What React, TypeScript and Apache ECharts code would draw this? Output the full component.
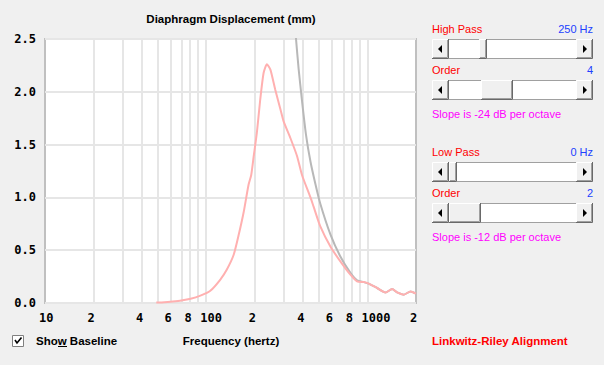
import React, { useEffect, useRef } from 'react';
import * as echarts from 'echarts';

// Response curve (with crossover) — frequency in Hz, displacement in mm
const responseHz = [49, 55, 62, 70, 80, 92, 106, 122, 134, 148, 159, 171, 183, 190, 197, 206, 216, 227, 238, 250, 268, 289, 302, 333, 366, 393, 443, 464, 510, 589, 679, 784, 862, 950, 1018, 1148, 1294, 1422, 1527, 1680, 1850, 2000];
const responseMm = [0.005, 0.008, 0.015, 0.024, 0.04, 0.07, 0.116, 0.22, 0.315, 0.457, 0.646, 0.867, 1.12, 1.21, 1.39, 1.61, 1.92, 2.18, 2.26, 2.21, 2.02, 1.83, 1.72, 1.56, 1.39, 1.21, 1.0, 0.91, 0.725, 0.535, 0.394, 0.268, 0.205, 0.198, 0.183, 0.142, 0.1, 0.132, 0.1, 0.079, 0.11, 0.088];

// Baseline curve (no crossover)
const baselineHz = [352, 361, 374, 393, 416, 443, 475, 510, 589, 679, 784, 862, 950, 1018, 1148, 1294, 1422, 1527, 1680, 1850, 2000];
const baselineMm = [2.7, 2.49, 2.22, 1.91, 1.59, 1.34, 1.13, 0.94, 0.65, 0.44, 0.285, 0.215, 0.198, 0.183, 0.142, 0.1, 0.132, 0.1, 0.079, 0.11, 0.088];

const xTickHz = [10, 20, 40, 60, 80, 100, 200, 400, 600, 800, 1000, 2000];
const xTickLabels = ['10', '2', '4', '6', '8', '100', '2', '4', '6', '8', '1000', '2'];
const xGridHz = [20, 30, 40, 50, 60, 70, 80, 90, 100, 200, 300, 400, 500, 600, 700, 800, 900, 1000];

const yMin = 0;
const yMax = 2.5;
const yStep = 0.5;

const UI_FONT = '"Liberation Sans", Arial, sans-serif';
const MONO_FONT = '"DejaVu Sans Mono", monospace';

function button(x: number, y: number, w: number, h: number): any[] {
  return [
    { type: 'rect', shape: { x, y, width: w, height: h }, style: { fill: '#f0f0f0' } },
    { type: 'polyline', shape: { points: [[x + 0.5, y + h - 1], [x + 0.5, y + 0.5], [x + w - 1, y + 0.5]] }, style: { stroke: '#ffffff', lineWidth: 1, fill: 'none' } },
    { type: 'polyline', shape: { points: [[x, y + h - 0.5], [x + w - 0.5, y + h - 0.5], [x + w - 0.5, y]] }, style: { stroke: '#696969', lineWidth: 1, fill: 'none' } },
    { type: 'polyline', shape: { points: [[x + 1, y + h - 1.5], [x + w - 1.5, y + h - 1.5], [x + w - 1.5, y + 1]] }, style: { stroke: '#a0a0a0', lineWidth: 1, fill: 'none' } },
  ];
}

function scrollbar(x: number, y: number, w: number, h: number, thumbX: number, thumbW: number): any[] {
  const bw = 17;
  const cy = y + h / 2;
  const lx = x + bw / 2;
  const rx = x + w - bw / 2;
  return [
    { type: 'rect', shape: { x: x + 0.5, y: y + 0.5, width: w - 1, height: h - 1 }, style: { fill: '#ffffff', stroke: '#a0a0a0', lineWidth: 1 } },
    ...button(x, y, bw, h),
    ...button(x + w - bw, y, bw, h),
    ...button(thumbX, y, thumbW, h),
    { type: 'polygon', shape: { points: [[lx + 1.5, cy - 4], [lx + 1.5, cy + 4], [lx - 2.5, cy]] }, style: { fill: '#000' } },
    { type: 'polygon', shape: { points: [[rx - 1.5, cy - 4], [rx - 1.5, cy + 4], [rx + 2.5, cy]] }, style: { fill: '#000' } },
  ];
}

function txt(x: number, y: number, text: string, fill: string, opts: any = {}): any {
  return {
    type: 'text',
    x,
    y,
    style: {
      text,
      fill,
      fontSize: opts.size || 11,
      fontFamily: opts.family || UI_FONT,
      fontWeight: opts.weight || 'normal',
      textAlign: opts.align || 'left',
      align: opts.align || 'left',
      textVerticalAlign: 'middle',
      verticalAlign: 'middle',
    },
  };
}

const RED = '#ff0000';
const BLUE = '#2040ff';
const MAGENTA = '#ff00ff';

export default function App() {
  const ref = useRef<HTMLDivElement>(null);
  useEffect(() => {
    const chart = echarts.init(ref.current!, null, { renderer: 'svg' });
    const graphics: any[] = [
      txt(231, 19, 'Diaphragm Displacement (mm)', '#000', { weight: 'bold', align: 'center', size: 11.5 }),
      txt(231, 341, 'Frequency (hertz)', '#000', { weight: 'bold', align: 'center', size: 11.5 }),
      // checkbox
      { type: 'rect', shape: { x: 12.5, y: 335.5, width: 11, height: 11 }, style: { fill: '#fff', stroke: '#808080', lineWidth: 1 } },
      { type: 'polyline', shape: { points: [[15, 340], [17, 343], [21.5, 337.5]] }, style: { stroke: '#000', lineWidth: 1.6, fill: 'none' } },
      txt(36, 341, 'Show Baseline', '#000', { weight: 'bold', size: 11.5 }),
      { type: 'line', shape: { x1: 58, y1: 346.5, x2: 67, y2: 346.5 }, style: { stroke: '#000', lineWidth: 1 } },
      txt(432, 341, 'Linkwitz-Riley Alignment', RED, { weight: 'bold', size: 11.5 }),
      // high pass section
      txt(432, 29, 'High Pass', RED),
      txt(593, 29, '250 Hz', BLUE, { align: 'right' }),
      ...scrollbar(432, 39, 161, 20, 479, 8),
      txt(432, 70, 'Order', RED),
      txt(593, 70, '4', BLUE, { align: 'right' }),
      ...scrollbar(432, 80, 161, 20, 481, 32),
      txt(432, 114, 'Slope is -24 dB per octave', MAGENTA),
      // low pass section
      txt(432, 152, 'Low Pass', RED),
      txt(593, 152, '0 Hz', BLUE, { align: 'right' }),
      ...scrollbar(432, 162, 161, 20, 449, 8),
      txt(432, 193, 'Order', RED),
      txt(593, 193, '2', BLUE, { align: 'right' }),
      ...scrollbar(432, 203, 161, 20, 449, 32),
      txt(432, 237, 'Slope is -12 dB per octave', MAGENTA),
    ];

    chart.setOption({
      animation: false,
      backgroundColor: '#f0f0f0',
      grid: {
        left: 45,
        right: 188,
        top: 39,
        bottom: 62,
        show: true,
        backgroundColor: '#ffffff',
        borderColor: '#c0c0c0',
        borderWidth: 2,
      },
      xAxis: {
        type: 'value',
        min: 1,
        max: Math.log10(2000),
        axisLine: { show: false },
        axisTick: { show: false },
        splitLine: { show: false },
        axisLabel: {
          customValues: xTickHz.map((f) => Math.log10(f)),
          formatter: (v: number) => {
            const i = xTickHz.findIndex((f) => Math.abs(Math.log10(f) - v) < 1e-6);
            return i >= 0 ? xTickLabels[i] : '';
          },
          align: 'left',
          padding: [0, 0, 0, -6],
          margin: 9,
          color: '#000',
          fontFamily: MONO_FONT,
          fontWeight: 'bold',
          fontSize: 12,
          showMinLabel: true,
          showMaxLabel: true,
        },
      },
      yAxis: {
        type: 'value',
        min: yMin,
        max: yMax,
        interval: yStep,
        axisLine: { show: false },
        axisTick: { show: false },
        splitLine: { show: true, lineStyle: { color: '#e6e6e6', width: 2 } },
        axisLabel: {
          formatter: (v: number) => v.toFixed(1),
          margin: 9,
          color: '#000',
          fontFamily: MONO_FONT,
          fontWeight: 'bold',
          fontSize: 12,
        },
      },
      graphic: graphics,
      series: [
        {
          type: 'line',
          name: 'grid',
          data: [],
          z: 1,
          silent: true,
          markLine: {
            z: 1,
            silent: true,
            symbol: ['none', 'none'],
            label: { show: false },
            lineStyle: { color: '#e6e6e6', width: 2, type: 'solid' },
            data: xGridHz.map((f) => ({ xAxis: Math.log10(f) })),
          },
        },
        {
          type: 'line',
          name: 'Baseline',
          data: baselineHz.map((f, i) => [Math.log10(f), baselineMm[i]]),
          showSymbol: false,
          smooth: 0.2,
          z: 3,
          lineStyle: { color: '#b8b8b8', width: 2 },
        },
        {
          type: 'line',
          name: 'Displacement',
          data: responseHz.map((f, i) => [Math.log10(f), responseMm[i]]),
          showSymbol: false,
          smooth: 0.2,
          z: 4,
          lineStyle: { color: '#ffb0b0', width: 2 },
        },
      ],
    });
    return () => chart.dispose();
  }, []);
  return (
    <div
      ref={ref}
      style={{ position: 'absolute', left: 0, top: 0, width: 604, height: 365, background: '#f0f0f0' }}
    />
  );
}
